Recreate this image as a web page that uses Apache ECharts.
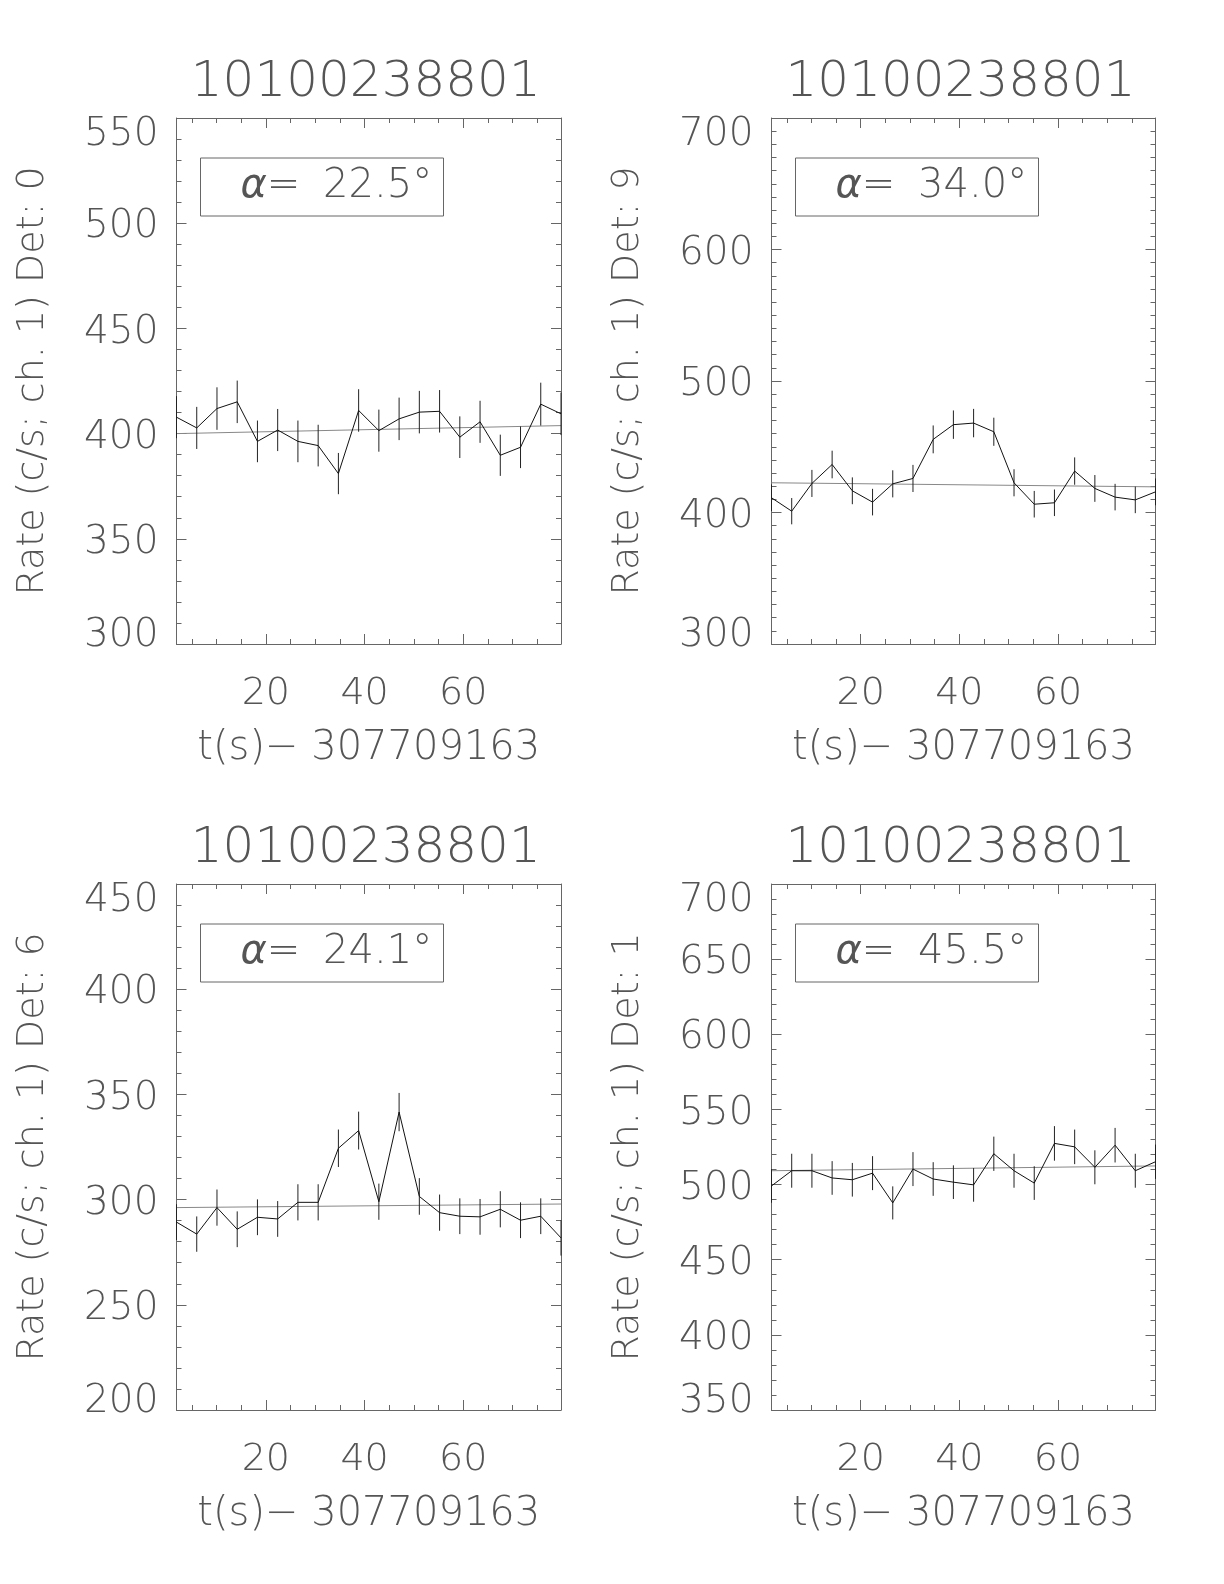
<!DOCTYPE html>
<html><head><meta charset="utf-8">
<script src="https://cdn.jsdelivr.net/npm/echarts@6/dist/echarts.min.js"></script>
<style>html,body{margin:0;padding:0;background:#fff}#c{width:1224px;height:1584px}</style>
</head><body><div id="c"></div>
<script>
// ---------- data ----------
const obsId = '10100238801';
const timeOffsetLabel = 't(s)\u2212 307709163';
const times = [1.9, 6.0, 10.1, 14.2, 18.3, 22.4, 26.5, 30.6, 34.7, 38.8, 42.9, 47.0, 51.1, 55.2, 59.3, 63.4, 67.5, 71.6, 75.7, 79.8];
const xTicksMajor = [20, 40, 60];
const xTicksMinor = [5, 10, 15, 25, 30, 35, 45, 50, 55, 65, 70, 75];

const detectors = ['0', '9', '6', '1'];
const alphas = ['22.5', '34.0', '24.1', '45.5'];

const rateDet0 = [407.8, 402.7, 411.9, 415.1, 396.3, 401.7, 396.3, 394.3, 381.0, 411.0, 401.4, 407.0, 410.2, 410.6, 398.3, 405.6, 389.7, 393.5, 414.0, 409.4];
const errDet0  = [10.0, 10.0, 10.1, 10.1, 9.9, 10.0, 9.9, 9.9, 9.8, 10.1, 10.0, 10.1, 10.1, 10.1, 9.9, 10.0, 9.8, 9.9, 10.2, 10.1];
const fitDet0  = [400.0, 403.8];

const rateDet9 = [411.2, 401.0, 422.1, 436.5, 416.5, 407.9, 421.8, 425.9, 455.6, 466.8, 468.0, 461.4, 422.6, 406.3, 407.4, 431.5, 418.3, 411.7, 409.6, 415.7];
const errDet9  = [10.1, 10.0, 10.3, 10.5, 10.2, 10.1, 10.3, 10.3, 10.6, 10.8, 10.8, 10.7, 10.3, 10.1, 10.1, 10.4, 10.2, 10.1, 10.1, 10.2];
const fitDet9  = [422.6, 419.5];

const rateDet6 = [289.3, 283.6, 296.2, 285.9, 291.6, 290.8, 298.7, 298.7, 324.4, 332.8, 299.0, 341.6, 301.5, 293.8, 292.1, 291.8, 295.4, 290.2, 292.1, 281.8];
const errDet6  = [8.5, 8.4, 8.6, 8.5, 8.5, 8.5, 8.6, 8.6, 8.9, 9.0, 8.6, 9.1, 8.7, 8.6, 8.5, 8.5, 8.6, 8.5, 8.5, 8.4];
const fitDet6  = [296.2, 297.9];

const rateDet1 = [499.1, 509.2, 509.2, 504.4, 503.2, 507.6, 487.8, 510.3, 503.7, 501.6, 499.8, 520.5, 509.2, 501.0, 527.4, 525.1, 511.5, 526.2, 509.2, 515.2];
const errDet1  = [11.2, 11.3, 11.3, 11.2, 11.2, 11.3, 11.0, 11.3, 11.2, 11.2, 11.2, 11.4, 11.3, 11.2, 11.5, 11.5, 11.3, 11.5, 11.3, 11.4];
const fitDet1  = [509.2, 512.4];

const yMin = [300, 300, 200, 350];
const yMax = [550, 700, 450, 700];
const yInterval = [50, 100, 50, 50];
const yMinorSplit = [5, 10, 5, 5];

const rates = [rateDet0, rateDet9, rateDet6, rateDet1];
const errs = [errDet0, errDet9, errDet6, errDet1];
const fits = [fitDet0, fitDet9, fitDet6, fitDet1];

// ---------- layout ----------
const FONT = 'DejaVu Sans';
const TXT = '#555';
const AX = '#666';
const grids = [
  {left: 176.5, top: 118, width: 384.5, height: 526},
  {left: 771.5, top: 118, width: 384, height: 526},
  {left: 176.5, top: 884, width: 384.5, height: 526},
  {left: 771.5, top: 884, width: 384, height: 526}
];
const xMin = times[0], xMax = times[times.length - 1];
const lblStyle = {fontSize: 39, color: TXT, fontFamily: FONT, fontWeight: 300};

const chart = echarts.init(document.getElementById('c'), null, {renderer: 'canvas'});
const xAxes = [], yAxes = [], series = [], graphics = [];

grids.forEach((g, i) => {
  const base = {gridIndex: i, type: 'value', min: xMin, max: xMax, splitLine: {show: false}};
  const xi = xAxes.length;
  xAxes.push(Object.assign({}, base, {
    position: 'bottom',
    axisLine: {show: true, onZero: false, lineStyle: {color: AX, width: 1}},
    axisTick: {show: true, inside: true, length: 10, customValues: xTicksMajor, lineStyle: {color: AX}},
    axisLabel: {show: true, customValues: xTicksMajor, margin: 31, fontSize: 38, color: TXT, fontFamily: FONT, fontWeight: 300},
    name: timeOffsetLabel, nameLocation: 'middle', nameGap: 85,
    nameTextStyle: {fontSize: 40, color: TXT, fontFamily: FONT, fontWeight: 300}
  }));
  xAxes.push(Object.assign({}, base, {
    position: 'bottom',
    axisLine: {show: false, onZero: false},
    axisTick: {show: true, inside: true, length: 5, customValues: xTicksMinor, lineStyle: {color: AX}},
    axisLabel: {show: false}
  }));
  xAxes.push(Object.assign({}, base, {
    position: 'top',
    axisLine: {show: true, onZero: false, lineStyle: {color: AX, width: 1}},
    axisTick: {show: true, inside: true, length: 10, customValues: xTicksMajor, lineStyle: {color: AX}},
    axisLabel: {show: false}
  }));
  xAxes.push(Object.assign({}, base, {
    position: 'top',
    axisLine: {show: false, onZero: false},
    axisTick: {show: true, inside: true, length: 5, customValues: xTicksMinor, lineStyle: {color: AX}},
    axisLabel: {show: false}
  }));
  const yi = yAxes.length;
  const ybase = {gridIndex: i, type: 'value', min: yMin[i], max: yMax[i], interval: yInterval[i], splitLine: {show: false}};
  const lo = yMin[i], hi = yMax[i];
  yAxes.push(Object.assign({}, ybase, {
    position: 'left',
    axisLine: {show: true, onZero: false, lineStyle: {color: AX, width: 1}},
    axisTick: {show: true, inside: true, length: 10, lineStyle: {color: AX}},
    minorTick: {show: true, splitNumber: yMinorSplit[i], length: 5, lineStyle: {color: AX}},
    axisLabel: {
      show: true, margin: 18, ...lblStyle,
      formatter: v => (v === hi ? '{t|' + v + '}' : v === lo ? '{b|' + v + '}' : '{m|' + v + '}'),
      rich: {
        t: Object.assign({padding: [34, 0, 0, 0]}, lblStyle),
        b: Object.assign({padding: [0, 0, 16, 0]}, lblStyle),
        m: Object.assign({padding: [8, 0, 0, 0]}, lblStyle)
      }
    },
    name: 'Rate (c/s; ch. 1) Det: ' + detectors[i], nameLocation: 'middle', nameGap: 124,
    nameTextStyle: {fontSize: 38, color: TXT, fontFamily: FONT, fontWeight: 300}
  }));
  yAxes.push(Object.assign({}, ybase, {
    position: 'right',
    axisLine: {show: true, onZero: false, lineStyle: {color: AX, width: 1}},
    axisTick: {show: true, inside: true, length: 10, lineStyle: {color: AX}},
    minorTick: {show: true, splitNumber: yMinorSplit[i], length: 5, lineStyle: {color: AX}},
    axisLabel: {show: false}
  }));

  // fit line
  series.push({
    type: 'line', xAxisIndex: xi, yAxisIndex: yi, symbol: 'none', silent: true,
    data: [[xMin, fits[i][0]], [xMax, fits[i][1]]],
    lineStyle: {color: '#888', width: 1}, z: 2
  });
  // light curve
  series.push({
    type: 'line', xAxisIndex: xi, yAxisIndex: yi, symbol: 'none', silent: true,
    data: times.map((t, j) => [t, rates[i][j]]),
    lineStyle: {color: '#111', width: 1}, z: 3
  });
  // error bars
  series.push({
    type: 'custom', xAxisIndex: xi, yAxisIndex: yi, silent: true, z: 3,
    data: times.map((t, j) => [t, rates[i][j] - errs[i][j], rates[i][j] + errs[i][j]]),
    renderItem: (params, api) => {
      const p1 = api.coord([api.value(0), api.value(1)]);
      const p2 = api.coord([api.value(0), api.value(2)]);
      return {type: 'line', shape: {x1: p1[0], y1: p1[1], x2: p2[0], y2: p2[1]}, style: {stroke: '#222', lineWidth: 1}};
    }
  });

  // title
  graphics.push({
    type: 'text', x: g.left + g.width / 2 - 3, y: g.top - 35,
    style: {text: obsId, fontSize: 50, fontFamily: FONT, fontWeight: 300, fill: TXT, align: 'center', verticalAlign: 'middle'}
  });
  // alpha box
  graphics.push({
    type: 'rect', shape: {x: g.left + 24, y: g.top + 40, width: 243, height: 58},
    style: {fill: 'none', stroke: AX, lineWidth: 1}
  });
  graphics.push({
    type: 'text', x: g.left + 64, y: g.top + 69,
    style: {
      text: '{a|\u03b1}= {b|' + alphas[i] + '\u00b0}',
      fontSize: 40, fontFamily: FONT, fontWeight: 300, fill: TXT, verticalAlign: 'middle',
      rich: {a: {fontStyle: 'italic', fontSize: 40, fontFamily: FONT, fontWeight: 300, fill: TXT, color: TXT},
             b: {fontSize: 40, fontFamily: FONT, fontWeight: 300, fill: TXT, color: TXT, padding: [0, 0, 0, 10]}}
    }
  });
});

chart.setOption({
  backgroundColor: '#fff',
  animation: false,
  grid: grids.map(g => Object.assign({containLabel: false}, g)),
  xAxis: xAxes,
  yAxis: yAxes,
  series: series,
  graphic: graphics
});
</script>
</body></html>
